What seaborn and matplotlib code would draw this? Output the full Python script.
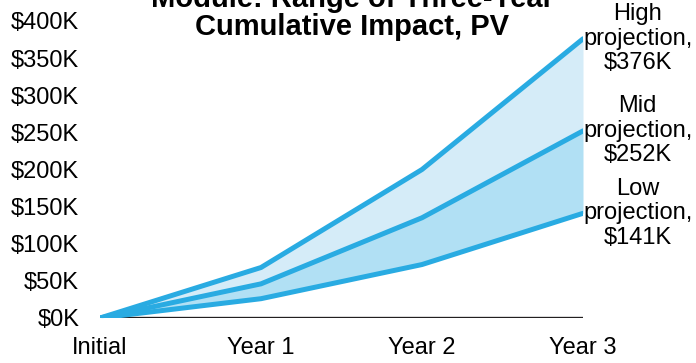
import matplotlib
matplotlib.use("Agg")
import matplotlib.pyplot as plt
import seaborn as sns
import pandas as pd

# Cumulative impact by period, in $K
periods = ["Initial", "Year 1", "Year 2", "Year 3"]
high = [0, 68, 200, 376]
mid = [0, 46, 135, 252]
low = [0, 26, 72, 141]
y_ticks = [0, 50, 100, 150, 200, 250, 300, 350, 400]
series_names = ["High", "Mid", "Low"]

sns.set_theme(style="white")
plt.rcParams["font.family"] = ["Liberation Sans", "DejaVu Sans"]
plt.rcParams["text.color"] = "black"

LINE = "#29ABE2"
FILL_UPPER = "#D5ECF8"
FILL_LOWER = "#B1E0F4"

df = pd.DataFrame({
    "x": list(range(len(periods))) * 3,
    "value": high + mid + low,
    "series": sum([[n] * len(periods) for n in series_names], []),
})

fig = plt.figure(figsize=(6.96, 3.63), dpi=100)
ax = fig.add_axes([100 / 696, 1 - 318 / 363, 483 / 696, 297 / 363])

xs = list(range(len(periods)))
ax.fill_between(xs, mid, high, color=FILL_UPPER, lw=0, zorder=1)
ax.fill_between(xs, low, mid, color=FILL_LOWER, lw=0, zorder=1)
ax.axhline(0, color="#231F20", lw=2.4, zorder=2)

sns.lineplot(data=df, x="x", y="value", hue="series",
             palette={n: LINE for n in series_names},
             lw=3.6, legend=False, ax=ax, zorder=3)

for name, vals in zip(series_names, [high, mid, low]):
    ax.annotate(f"{name}\nprojection,\n${vals[-1]}K",
                xy=(xs[-1], vals[-1]), xytext=(0, 0), textcoords="offset points",
                ha="left", va="center", multialignment="center",
                fontsize=17, linespacing=1.15, color="black",
                annotation_clip=False)

ax.set_xlim(0, 3)
ax.set_ylim(0, 400)
ax.set_xticks(xs)
ax.set_xticklabels(periods)
ax.set_yticks(y_ticks)
ax.set_yticklabels([f"${v}K" for v in y_ticks])
ax.tick_params(axis="both", length=0, labelsize=17, colors="black")
ax.tick_params(axis="y", pad=15)
ax.tick_params(axis="x", pad=14)
ax.set_xlabel("")
ax.set_ylabel("")
for s in ax.spines.values():
    s.set_visible(False)

fig.text(352 / 696, 1 - 13 / 363,
         "Module: Range of Three-Year\nCumulative Impact, PV",
         ha="center", va="center", fontsize=21, fontweight="bold",
         linespacing=1.0, color="black")

fig.savefig("out.png", dpi=100)
